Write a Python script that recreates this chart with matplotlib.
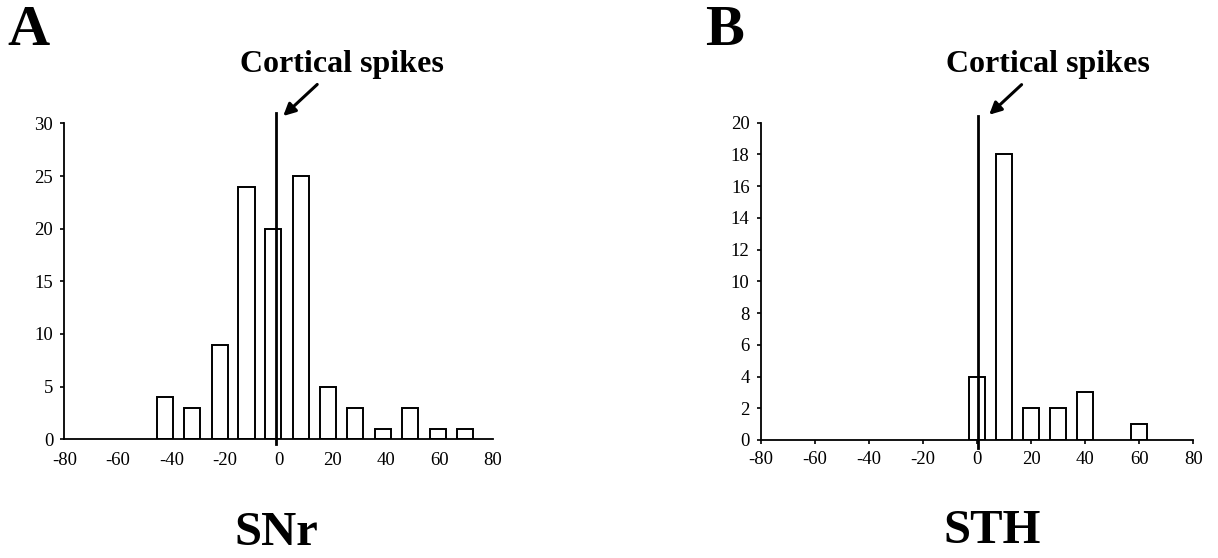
import matplotlib
matplotlib.use("Agg")
import matplotlib.pyplot as plt

plt.rcParams['font.family'] = ['Liberation Serif', 'DejaVu Serif']
plt.rcParams['axes.unicode_minus'] = False

# SNr histogram (panel A)
snr_bins = [-42.5, -32.5, -22, -12, -2, 8.5, 18.5, 28.5, 39, 49, 59.5, 69.5]
snr_counts = [4, 3, 9, 24, 20, 25, 5, 3, 1, 3, 1, 1]

# STH histogram (panel B)
sth_bins = [0, 10, 20, 30, 40, 60]
sth_counts = [4, 18, 2, 2, 3, 1]

x_ticks = [-80, -60, -40, -20, 0, 20, 40, 60, 80]
snr_yticks = [0, 5, 10, 15, 20, 25, 30]
sth_yticks = [0, 2, 4, 6, 8, 10, 12, 14, 16, 18, 20]

W, H = 1218, 558
fig = plt.figure(figsize=(W / 100, H / 100), dpi=100)


def px_axes(left, right, bottom, top):
    return fig.add_axes([left / W, 1 - bottom / H, (right - left) / W, (bottom - top) / H])


def setup(ax, yticks, xtick_len, xpad):
    for s in ['top', 'right']:
        ax.spines[s].set_visible(False)
    for s in ['left', 'bottom']:
        ax.spines[s].set_linewidth(1.3)
    ax.set_xlim(-80, 80)
    ax.set_ylim(0, yticks[-1])
    ax.set_xticks(x_ticks)
    ax.set_yticks(yticks)
    ax.tick_params(axis='y', direction='out', length=3, width=1.2, pad=5, labelsize=13.5)
    ax.tick_params(axis='x', direction='out', length=xtick_len, width=1.2, pad=xpad, labelsize=13.5)


axA = px_axes(64.3, 493, 439.3, 123.4)
setup(axA, snr_yticks, 0, 9)
axA.bar(snr_bins, snr_counts, width=6, color='white', edgecolor='black', linewidth=1.4, zorder=2)
axA.plot([-1, -1], [-0.4, 31], color='black', lw=2, clip_on=False, zorder=3)
axA.annotate('', xy=(1.7, 30.7), xytext=(14.4, 33.7), xycoords='data',
             arrowprops=dict(arrowstyle='-|>', lw=2.2, color='black', mutation_scale=18,
                             shrinkA=0, shrinkB=0), annotation_clip=False)
axA.text(23.8, 34.9, 'Cortical spikes', ha='center', va='baseline', fontsize=23,
         fontweight='bold', clip_on=False)

axB = px_axes(760.7, 1193.3, 440, 122.7)
setup(axB, sth_yticks, 3, 5)
axB.bar(sth_bins, sth_counts, width=6, color='white', edgecolor='black', linewidth=1.4, zorder=2)
axB.plot([0.5, 0.5], [-0.5, 20.4], color='black', lw=2, clip_on=False, zorder=3)
axB.annotate('', xy=(4.5, 20.5), xytext=(16.5, 22.4), xycoords='data',
             arrowprops=dict(arrowstyle='-|>', lw=2.2, color='black', mutation_scale=18,
                             shrinkA=0, shrinkB=0), annotation_clip=False)
axB.text(26.3, 23.2, 'Cortical spikes', ha='center', va='baseline', fontsize=23,
         fontweight='bold', clip_on=False)

fig.text(7 / W, 1 - 45 / H, 'A', fontsize=42, fontweight='bold', ha='left', va='baseline')
fig.text(705 / W, 1 - 45 / H, 'B', fontsize=42, fontweight='bold', ha='left', va='baseline')
fig.text(276 / W, 1 - 545 / H, 'SNr', fontsize=35, fontweight='bold', ha='center', va='baseline')
fig.text(992 / W, 1 - 543 / H, 'STH', fontsize=35, fontweight='bold', ha='center', va='baseline')

fig.savefig('out.png', dpi=100)
